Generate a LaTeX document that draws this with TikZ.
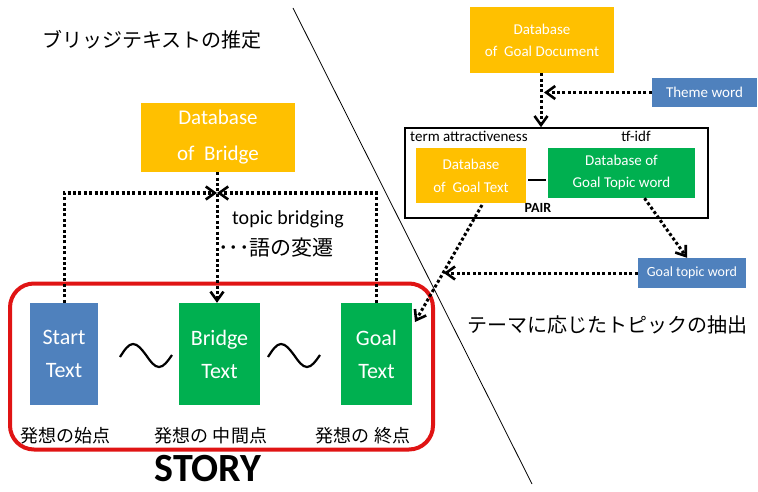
\documentclass[tikz,border=0pt]{standalone}
\usepackage{fontspec}
\setmainfont{Carlito}
\newfontfamily\jp{Noto Sans CJK JP}
\usetikzlibrary{arrows.meta,calc}
\definecolor{dborange}{HTML}{FFC000}
\definecolor{dbblue}{HTML}{4F81BD}
\definecolor{dbgreen}{HTML}{00B050}
\definecolor{storyred}{HTML}{E01414}
\begin{document}
\begin{tikzpicture}[x=1pt,y=-1pt,
  box/.style={inner sep=0pt, align=center, text=white},
  dots/.style={line width=3pt, dash pattern=on 3pt off 2.4pt},
  dotarrow/.style={dots, -{Straight Barb[length=9pt,width=13pt,line width=2.6pt]}},
  tilde/.style={line width=2.2pt},
  jplabel/.style={inner sep=0pt, font=\jp\fontsize{18}{20}\selectfont},
]
\path[use as bounding box] (0,0) rectangle (758,492);

% divider
\coordinate (d1) at (293,8);
\coordinate (d2) at (532,484);
\draw[line width=0.8pt] (d1) -- (d2);

% ---------- left side ----------
\node[inner sep=0pt, anchor=west, font=\jp\fontsize{20}{22}\selectfont] (title) at (42,40) {ブリッジテキストの推定};

\node[box, fill=dborange, minimum width=154pt, minimum height=69pt,
      font=\fontsize{21}{36}\selectfont] (bdb) at (218,137.5) {Database\\of~~Bridge};

\node[draw=storyred, line width=4pt, rounded corners=24pt,
      minimum width=423pt, minimum height=166pt] (story) at (221.5,366.5) {};

\node[box, fill=dbblue, minimum width=68pt, minimum height=102pt,
      font=\fontsize{22}{33}\selectfont] (start) at (64,354) {Start\\Text};
\node[box, fill=dbgreen, minimum width=81pt, minimum height=102pt,
      font=\fontsize{22}{33}\selectfont] (bridge) at (219.5,354) {Bridge\\Text};
\node[box, fill=dbgreen, minimum width=71pt, minimum height=102pt,
      font=\fontsize{22}{33}\selectfont] (goal) at (376.5,354) {Goal\\Text};

\draw[tilde] (120,357) sin (133,344) cos (146,355) sin (159,367) cos (172,355);
\draw[tilde] (268,357) sin (281,344) cos (294,355) sin (307,367) cos (320,355);

\node[jplabel] (l1) at (65.5,436) {発想の始点};
\node[jplabel] (l2) at (211,436) {発想の 中間点};
\node[jplabel] (l3) at (363,436) {発想の 終点};

\node[inner sep=0pt, anchor=base, font=\bfseries\fontsize{40}{40}\selectfont] (storylbl) at (208,481) {STORY};

\node[inner sep=0pt, anchor=west, font=\fontsize{20}{22}\selectfont] (tb) at (232,219) {topic bridging};
\node[inner sep=0pt, anchor=west, font=\jp\fontsize{21}{23}\selectfont] (tb2) at (218,248) {･･･語の変遷};

\coordinate (cx) at (217,193);
\draw[dotarrow] (start.north) |- (cx);
\draw[dotarrow] (goal.north) |- (cx);
\draw[dotarrow] (bdb.south -| cx) -- (bridge.north -| cx);

% ---------- right side ----------
\node[box, fill=dborange, minimum width=144pt, minimum height=66pt,
      font=\fontsize{15}{22}\selectfont] (gdoc) at (542,40) {Database\\of~~Goal Document};
\node[box, fill=dbblue, minimum width=105pt, minimum height=29pt,
      font=\fontsize{15}{17}\selectfont] (theme) at (704.5,92.5) {Theme word};

\node[draw, line width=1.6pt, inner sep=0pt, minimum width=303pt, minimum height=90pt] (pair) at (556.5,173) {};
\node[inner sep=0pt, anchor=west, font=\fontsize{15}{17}\selectfont] (ta) at (410,136) {term attractiveness};
\node[inner sep=0pt, font=\fontsize{15}{17}\selectfont] (tfidf) at (636,136) {tf-idf};

\node[box, fill=dborange, minimum width=110pt, minimum height=55pt,
      font=\fontsize{15}{23}\selectfont] (gtext) at (471,175.5) {Database\\of~~Goal Text};
\node[box, fill=dbgreen, minimum width=147pt, minimum height=50pt,
      font=\fontsize{15}{22}\selectfont] (gtopic) at (621.5,173) {Database of\\Goal Topic word};
\coordinate (dashy) at (0,180);
\draw[line width=1.5pt] (gtext.east |- dashy) ++(2,0) -- ($(gtopic.west |- dashy)+(-2,0)$);
\node[inner sep=0pt, font=\bfseries\fontsize{14}{16}\selectfont] (pairlbl) at (538,208) {PAIR};

\node[box, fill=dbblue, minimum width=108pt, minimum height=30pt,
      font=\fontsize{14}{16}\selectfont] (gtw) at (692,273) {Goal topic word};

\node[inner sep=0pt, anchor=west, font=\jp\fontsize{20}{22}\selectfont] (extract) at (467,325) {テーマに応じたトピックの抽出};

\draw[dotarrow] (gdoc.south -| 541,0) -- (pair.north -| 541,0);
\draw[dotarrow] (theme.west) -- (544,92.5);

\coordinate (gts) at (482,205);
\coordinate (gin) at (415,322);
\draw[dotarrow] (gts) -- (gin);
\coordinate (mid) at ($(gts)!0.57!(gin)$);
\draw[dotarrow] (gtw.west) -- (mid |- gtw.west);
\draw[dotarrow] ([xshift=23pt]gtopic.south) -- ([xshift=-5pt]gtw.north);
\end{tikzpicture}
\end{document}
